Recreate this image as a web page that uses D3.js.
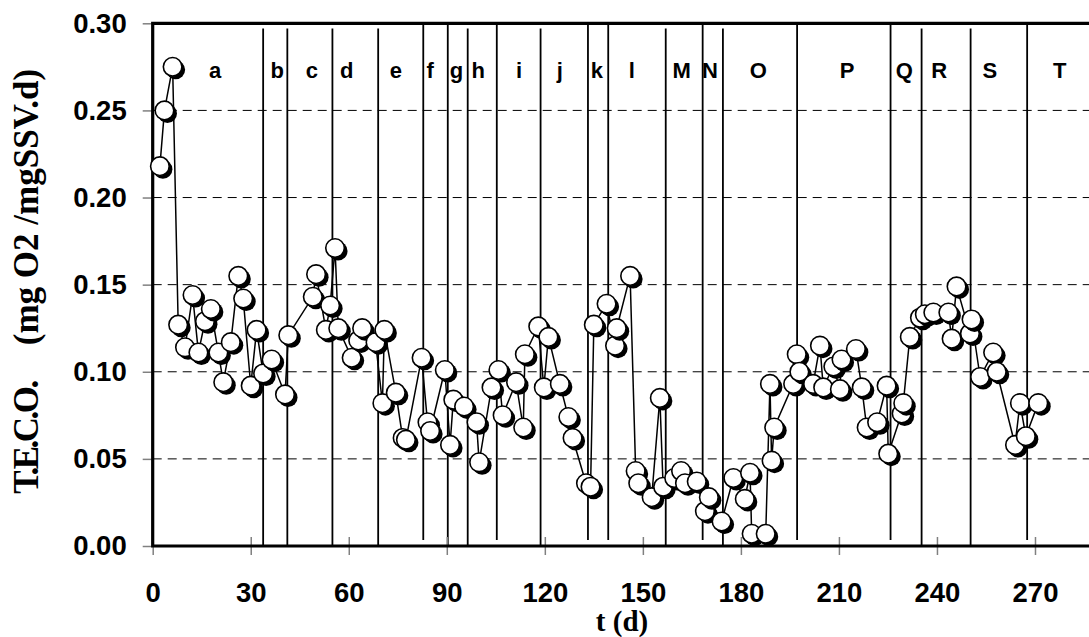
<!DOCTYPE html>
<html><head><meta charset="utf-8">
<script src="https://cdn.jsdelivr.net/npm/d3@7"></script>
<style>html,body{margin:0;padding:0;background:#fff;}</style>
</head><body>
<svg id="chart" width="1089" height="637"></svg>
<script>
// ---- data ----
const days = [2.2,3.6,6.1,7.8,9.9,12.2,14.0,16.0,17.8,20.1,21.6,23.9,26.2,27.7,30.0,31.8,33.8,36.4,40.5,41.5,49.0,50.0,53.0,54.3,55.8,56.8,60.9,62.9,64.1,68.2,70.3,70.9,74.4,76.5,77.5,82.3,84.1,84.9,89.4,91.0,92.0,95.3,99.1,99.9,103.7,105.8,107.1,111.2,113.4,113.9,118.0,119.7,121.1,124.6,127.2,128.5,132.6,134.0,135.0,138.9,141.5,142.0,146.1,147.8,148.6,152.7,155.2,156.2,159.6,161.7,162.9,166.5,169.0,170.2,174.1,177.7,181.2,182.8,183.3,187.6,188.9,189.4,190.2,196.0,197.1,197.9,202.1,204.2,205.2,208.3,210.3,210.8,215.2,217.0,218.5,221.7,224.6,225.1,229.2,229.7,231.7,234.8,236.3,238.9,243.5,244.5,246.0,250.1,250.6,253.2,257.2,258.3,263.9,265.4,267.2,271.0];
const teco = [0.218,0.250,0.275,0.127,0.114,0.144,0.111,0.129,0.136,0.111,0.094,0.117,0.155,0.142,0.092,0.124,0.099,0.107,0.087,0.121,0.143,0.156,0.124,0.138,0.171,0.125,0.108,0.118,0.125,0.117,0.082,0.124,0.088,0.062,0.061,0.108,0.071,0.066,0.101,0.058,0.084,0.080,0.071,0.048,0.091,0.101,0.075,0.094,0.068,0.110,0.126,0.091,0.120,0.093,0.074,0.062,0.036,0.034,0.127,0.139,0.115,0.125,0.155,0.043,0.036,0.028,0.085,0.034,0.039,0.043,0.036,0.037,0.020,0.028,0.014,0.039,0.027,0.042,0.007,0.007,0.093,0.049,0.068,0.093,0.110,0.100,0.093,0.115,0.091,0.103,0.090,0.107,0.113,0.091,0.068,0.071,0.092,0.053,0.076,0.082,0.120,0.131,0.133,0.134,0.134,0.119,0.149,0.122,0.130,0.097,0.111,0.100,0.058,0.082,0.063,0.082];

const phaseT      = [33.8,41.2,55.0,69.0,82.8,90.3,96.4,105.3,118.7,133.2,139.4,157.0,168.3,174.5,197.2,225.8,235.3,250.3,267.6];
const phaseTop    = [0.297,0.297,0.297,0.297,0.300,0.300,0.297,0.300,0.297,0.300,0.300,0.297,0.300,0.297,0.300,0.300,0.297,0.297,0.300];
const phaseBottom = [0,0,0,0,0.0034,0,0,0.0034,0,0.0034,0.0034,0,0.0034,0,0.0034,0.0034,0,0,0.0034];

const phaseNames = ['a','b','c','d','e','f','g','h','i','j','k','l','M','N','O','P','Q','R','S','T'];
const phaseLabelT = [19.1,38.1,48.7,59.4,74.4,84.9,93.0,99.6,112.1,124.6,135.9,146.6,161.9,170.5,185.3,212.5,230.0,240.7,256.2,277.6];

const xTicks = [0,30,60,90,120,150,180,210,240,270];
const yTicks = [0,0.05,0.10,0.15,0.20,0.25,0.30];
const gridVals = [0.05,0.10,0.15,0.20,0.25];

// ---- drawing ----
const svg = d3.select('#chart');
const x = d3.scaleLinear().domain([0, 287.6]).range([152.7, 1092.5]);
const y = d3.scaleLinear().domain([0, 0.30]).range([546, 23.3]);
const L = x(0), R = x(287.6), T = y(0.30), B = y(0);

// grid
svg.append('g').selectAll('line').data(gridVals).join('line')
  .attr('x1', L).attr('x2', R).attr('y1', d=>y(d)).attr('y2', d=>y(d))
  .attr('stroke','#000').attr('stroke-width',1).attr('stroke-dasharray','9,6');

// phase lines
svg.append('g').selectAll('line').data(phaseT).join('line')
  .attr('x1', d=>x(d)).attr('x2', d=>x(d))
  .attr('y1', (d,i)=>y(phaseTop[i])).attr('y2', (d,i)=>y(phaseBottom[i]))
  .attr('stroke','#000').attr('stroke-width',1.8);

// phase labels
svg.append('g').selectAll('text').data(phaseNames).join('text')
  .attr('x', (d,i)=>x(phaseLabelT[i])).attr('y', 78)
  .attr('text-anchor','middle')
  .attr('font-family','Liberation Sans, Arial, sans-serif').attr('font-weight','bold').attr('font-size',22)
  .text(d=>d);

// y axis
const yAxis = d3.axisLeft(y).tickValues(yTicks).tickFormat(d3.format('.2f')).tickSize(10).tickPadding(16);
const gy = svg.append('g').attr('transform',`translate(${L},0)`).call(yAxis);
gy.select('.domain').remove();
gy.selectAll('.tick line').attr('stroke','#808080').attr('stroke-width',1.5);
gy.selectAll('.tick text').attr('font-family','Liberation Sans, Arial, sans-serif').attr('font-weight','bold').attr('font-size',27.5).attr('fill','#000');

// x axis
const xAxis = d3.axisBottom(x).tickValues(xTicks).tickFormat(d3.format('d')).tickSize(9).tickPadding(0);
const gx = svg.append('g').attr('transform',`translate(0,${B})`).call(xAxis);
gx.select('.domain').remove();
gx.selectAll('.tick line').attr('y1',-9).attr('y2',9).attr('stroke','#808080').attr('stroke-width',1.5);
gx.selectAll('.tick text').attr('y',56).attr('dy',null)
  .attr('font-family','Liberation Sans, Arial, sans-serif').attr('font-weight','bold').attr('font-size',27.5).attr('fill','#000');

// frame
svg.append('path').attr('d',`M${R},${T}H${L}V${B}H${R}`).attr('fill','none').attr('stroke','#000').attr('stroke-width',3.2);
svg.append('line').attr('x1',R).attr('x2',R).attr('y1',T).attr('y2',B).attr('stroke','#000').attr('stroke-width',3.2);

// data line
const pts = days.map((d,i)=>[d, teco[i]]);
svg.append('path').datum(pts)
  .attr('d', d3.line().x(d=>x(d[0])).y(d=>y(d[1])))
  .attr('fill','none').attr('stroke','#000').attr('stroke-width',1.5);

// markers with shadow
const mk = svg.append('g').selectAll('g').data(pts).join('g')
  .attr('transform', d=>`translate(${x(d[0])},${y(d[1])})`);
mk.append('circle').attr('cx',3).attr('cy',3).attr('r',9.5).attr('fill','#000');
mk.append('circle').attr('r',9.3).attr('fill','#fff').attr('stroke','#000').attr('stroke-width',1.6);

// axis titles
svg.append('text').attr('transform','translate(38,438) rotate(-90)').attr('text-anchor','middle')
  .attr('font-family','Liberation Serif, Times New Roman, serif').attr('font-weight','bold').attr('font-size',35)
  .attr('letter-spacing',-2.5).text('T.E.C.O.');
svg.append('text').attr('transform','translate(38,207) rotate(-90)').attr('text-anchor','middle')
  .attr('font-family','Liberation Serif, Times New Roman, serif').attr('font-weight','bold').attr('font-size',35)
  .text('(mg O2 /mgSSV.d)');
svg.append('text').attr('x',622).attr('y',631).attr('text-anchor','middle')
  .attr('font-family','Liberation Serif, Times New Roman, serif').attr('font-weight','bold').attr('font-size',29)
  .text('t (d)');
</script>
</body></html>
